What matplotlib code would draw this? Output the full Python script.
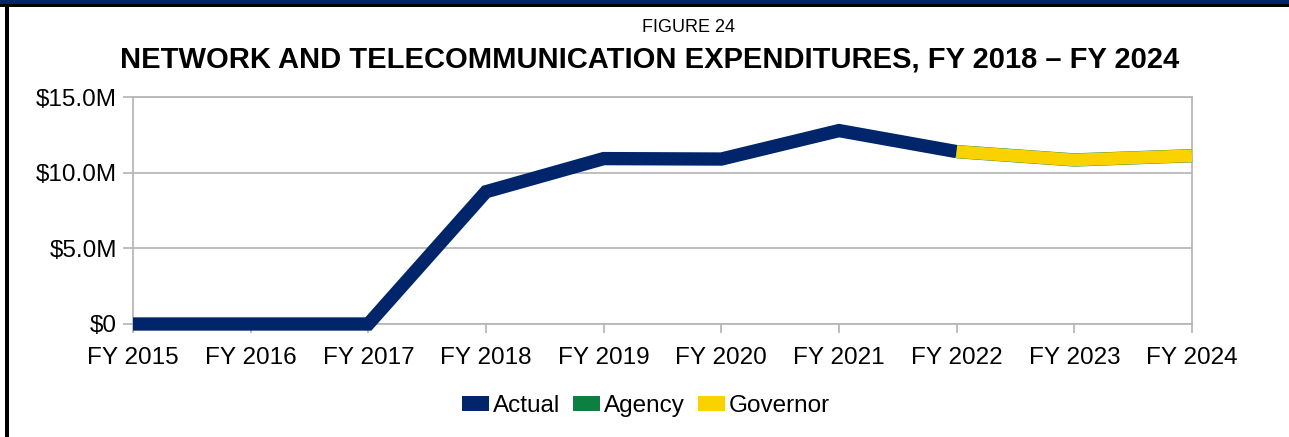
import matplotlib
matplotlib.use("Agg")
from matplotlib import pyplot as plt
from matplotlib.patches import Patch, Rectangle

# data
years = ["FY 2015", "FY 2016", "FY 2017", "FY 2018", "FY 2019",
         "FY 2020", "FY 2021", "FY 2022", "FY 2023", "FY 2024"]
actual = [0, 0, 0, 8.74, 10.93, 10.9, 12.78, 11.39]
agency = [11.39, 10.84, 11.12]
governor = [11.39, 10.84, 11.12]
yticks = [0, 5, 10, 15]
ytick_labels = ["$0", "$5.0M", "$10.0M", "$15.0M"]

NAVY = "#00256a"
GREEN = "#0d7f40"
YELLOW = "#f9d200"
GRID = "#b3b3b3"

plt.rcParams["font.family"] = ["Liberation Sans", "DejaVu Sans"]

W, H = 1289, 437
fig = plt.figure(figsize=(W / 100, H / 100), dpi=100)
fig.patch.set_facecolor("white")

ax = fig.add_axes([133 / W, 1 - 324 / H, (1192 - 133) / W, (324 - 97) / H])

x_all = list(range(len(years)))
ax.plot(x_all[:len(actual)], actual, color=NAVY, lw=9.6, clip_on=False,
        solid_capstyle="butt", solid_joinstyle="miter", zorder=3)
x_proj = x_all[len(actual) - 1:]
ax.plot(x_proj, agency, color=GREEN, lw=9.6, solid_capstyle="butt",
        clip_on=False, zorder=3)
ax.plot(x_proj, governor, color=YELLOW, lw=9.2, solid_capstyle="butt",
        clip_on=False, zorder=4)

ax.set_xlim(0, len(years) - 1)
ax.set_ylim(0, 15)
ax.set_xticks(x_all)
ax.set_xticklabels(years)
ax.set_yticks(yticks)
ax.set_yticklabels(ytick_labels)
ax.grid(axis="y", color=GRID, lw=1.2, zorder=0)
ax.set_axisbelow(True)
for s in ax.spines.values():
    s.set_color(GRID)
    s.set_linewidth(1.2)
ax.tick_params(axis="both", colors=GRID, length=7.5, width=1.2, labelsize=17.5,
               labelcolor="black")
ax.tick_params(axis="y", pad=4)
ax.tick_params(axis="x", length=6.5, pad=10)

fig.text(689 / W, 1 - 27 / H, "FIGURE 24", ha="center", va="center", fontsize=13)
fig.text(650 / W, 1 - 59 / H,
         "NETWORK AND TELECOMMUNICATION EXPENDITURES, FY 2018 \u2013 FY 2024",
         ha="center", va="center", fontsize=21, fontweight="bold")

handles = [Patch(facecolor=NAVY, edgecolor="none", label="Actual"),
           Patch(facecolor=GREEN, edgecolor="none", label="Agency"),
           Patch(facecolor=YELLOW, edgecolor="none", label="Governor")]
fig.legend(handles=handles, loc="center", bbox_to_anchor=(646 / W, 1 - 406 / H),
           ncol=3, frameon=False, fontsize=17.5, handlelength=1.1,
           handleheight=0.55, handletextpad=0.15, columnspacing=0.55,
           borderpad=0, borderaxespad=0)

# page frame
fig.add_artist(Rectangle((0, 1 - 3.5 / H), 1, 3.5 / H, transform=fig.transFigure,
                         facecolor="#00256a", edgecolor="none"))
fig.add_artist(Rectangle((0, 1 - 6.5 / H), 1, 3 / H, transform=fig.transFigure,
                         facecolor="black", edgecolor="none"))
fig.add_artist(Rectangle((5 / W, 0), 4 / W, 1 - 3.5 / H, transform=fig.transFigure,
                         facecolor="black", edgecolor="none"))

fig.savefig("out.png", dpi=100)
